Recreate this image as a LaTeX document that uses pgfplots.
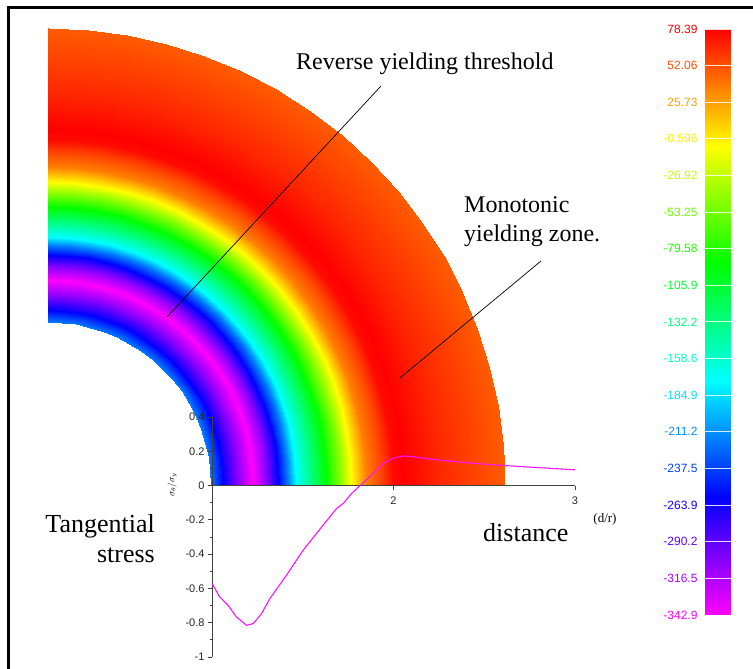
\documentclass[border=0pt]{standalone}
\usepackage{fontspec}
\setmainfont{Liberation Serif}
\newfontfamily\arial{Liberation Sans}
\usepackage{pgfplots}
\pgfplotsset{compat=1.18}
\begin{document}
\begin{tikzpicture}
\useasboundingbox (0pt,0pt) rectangle (753pt,669pt);
\fill[white] (0pt,0pt) rectangle (753pt,669pt);
% ---------------- stress field (quarter annulus) and colour bar gradient
\begin{axis}[at={(0pt,0pt)}, anchor=south west, scale only axis,
  width=753pt, height=669pt,
  xmin=-48, xmax=705, ymin=-184, ymax=485, view={0}{90}, hide axis,
  colormap={hue}{rgb255=(255,0,255) rgb255=(0,0,255) rgb255=(0,255,255) rgb255=(0,255,0) rgb255=(255,255,0) rgb255=(255,0,0)},
  point meta min=-342.9, point meta max=78.39]
\addplot3[surf, shader=interp, data cs=polar, mesh/cols=20] table {
a r v
0 163 -218
0 175 -258.6
0 190 -305
0 205 -342.9
0 218 -305
0 230 -258.6
0 240 -216.5
0 248 -174.4
0 263 -132.3
0 278 -90.1
0 291 -48
0 303 -5.9
0 318 36.3
0 333 56
0 345 75
0 355 78.39
0 368 74
0 390 66
0 420 58
0 457 48
5 163 -218
5 175 -258.6
5 190 -305
5 205 -342.9
5 218 -305
5 230 -258.6
5 240 -216.5
5 248 -174.4
5 263 -132.3
5 278 -90.1
5 291 -48
5 303 -5.9
5 318 36.3
5 333 56
5 345 75
5 355 78.39
5 368 74
5 390 66
5 420 58
5 457 48
10 163 -218
10 175 -258.6
10 190 -305
10 205 -342.9
10 218 -305
10 230 -258.6
10 240 -216.5
10 248 -174.4
10 263 -132.3
10 278 -90.1
10 291 -48
10 303 -5.9
10 318 36.3
10 333 56
10 345 75
10 355 78.39
10 368 74
10 390 66
10 420 58
10 457 48
15 163 -218
15 175 -258.6
15 190 -305
15 205 -342.9
15 218 -305
15 230 -258.6
15 240 -216.5
15 248 -174.4
15 263 -132.3
15 278 -90.1
15 291 -48
15 303 -5.9
15 318 36.3
15 333 56
15 345 75
15 355 78.39
15 368 74
15 390 66
15 420 58
15 457 48
20 163 -218
20 175 -258.6
20 190 -305
20 205 -342.9
20 218 -305
20 230 -258.6
20 240 -216.5
20 248 -174.4
20 263 -132.3
20 278 -90.1
20 291 -48
20 303 -5.9
20 318 36.3
20 333 56
20 345 75
20 355 78.39
20 368 74
20 390 66
20 420 58
20 457 48
25 163 -218
25 175 -258.6
25 190 -305
25 205 -342.9
25 218 -305
25 230 -258.6
25 240 -216.5
25 248 -174.4
25 263 -132.3
25 278 -90.1
25 291 -48
25 303 -5.9
25 318 36.3
25 333 56
25 345 75
25 355 78.39
25 368 74
25 390 66
25 420 58
25 457 48
30 163 -218
30 175 -258.6
30 190 -305
30 205 -342.9
30 218 -305
30 230 -258.6
30 240 -216.5
30 248 -174.4
30 263 -132.3
30 278 -90.1
30 291 -48
30 303 -5.9
30 318 36.3
30 333 56
30 345 75
30 355 78.39
30 368 74
30 390 66
30 420 58
30 457 48
35 163 -218
35 175 -258.6
35 190 -305
35 205 -342.9
35 218 -305
35 230 -258.6
35 240 -216.5
35 248 -174.4
35 263 -132.3
35 278 -90.1
35 291 -48
35 303 -5.9
35 318 36.3
35 333 56
35 345 75
35 355 78.39
35 368 74
35 390 66
35 420 58
35 457 48
40 163 -218
40 175 -258.6
40 190 -305
40 205 -342.9
40 218 -305
40 230 -258.6
40 240 -216.5
40 248 -174.4
40 263 -132.3
40 278 -90.1
40 291 -48
40 303 -5.9
40 318 36.3
40 333 56
40 345 75
40 355 78.39
40 368 74
40 390 66
40 420 58
40 457 48
45 163 -218
45 175 -258.6
45 190 -305
45 205 -342.9
45 218 -305
45 230 -258.6
45 240 -216.5
45 248 -174.4
45 263 -132.3
45 278 -90.1
45 291 -48
45 303 -5.9
45 318 36.3
45 333 56
45 345 75
45 355 78.39
45 368 74
45 390 66
45 420 58
45 457 48
50 163 -218
50 175 -258.6
50 190 -305
50 205 -342.9
50 218 -305
50 230 -258.6
50 240 -216.5
50 248 -174.4
50 263 -132.3
50 278 -90.1
50 291 -48
50 303 -5.9
50 318 36.3
50 333 56
50 345 75
50 355 78.39
50 368 74
50 390 66
50 420 58
50 457 48
55 163 -218
55 175 -258.6
55 190 -305
55 205 -342.9
55 218 -305
55 230 -258.6
55 240 -216.5
55 248 -174.4
55 263 -132.3
55 278 -90.1
55 291 -48
55 303 -5.9
55 318 36.3
55 333 56
55 345 75
55 355 78.39
55 368 74
55 390 66
55 420 58
55 457 48
60 163 -218
60 175 -258.6
60 190 -305
60 205 -342.9
60 218 -305
60 230 -258.6
60 240 -216.5
60 248 -174.4
60 263 -132.3
60 278 -90.1
60 291 -48
60 303 -5.9
60 318 36.3
60 333 56
60 345 75
60 355 78.39
60 368 74
60 390 66
60 420 58
60 457 48
65 163 -218
65 175 -258.6
65 190 -305
65 205 -342.9
65 218 -305
65 230 -258.6
65 240 -216.5
65 248 -174.4
65 263 -132.3
65 278 -90.1
65 291 -48
65 303 -5.9
65 318 36.3
65 333 56
65 345 75
65 355 78.39
65 368 74
65 390 66
65 420 58
65 457 48
70 163 -218
70 175 -258.6
70 190 -305
70 205 -342.9
70 218 -305
70 230 -258.6
70 240 -216.5
70 248 -174.4
70 263 -132.3
70 278 -90.1
70 291 -48
70 303 -5.9
70 318 36.3
70 333 56
70 345 75
70 355 78.39
70 368 74
70 390 66
70 420 58
70 457 48
75 163 -218
75 175 -258.6
75 190 -305
75 205 -342.9
75 218 -305
75 230 -258.6
75 240 -216.5
75 248 -174.4
75 263 -132.3
75 278 -90.1
75 291 -48
75 303 -5.9
75 318 36.3
75 333 56
75 345 75
75 355 78.39
75 368 74
75 390 66
75 420 58
75 457 48
80 163 -218
80 175 -258.6
80 190 -305
80 205 -342.9
80 218 -305
80 230 -258.6
80 240 -216.5
80 248 -174.4
80 263 -132.3
80 278 -90.1
80 291 -48
80 303 -5.9
80 318 36.3
80 333 56
80 345 75
80 355 78.39
80 368 74
80 390 66
80 420 58
80 457 48
85 163 -218
85 175 -258.6
85 190 -305
85 205 -342.9
85 218 -305
85 230 -258.6
85 240 -216.5
85 248 -174.4
85 263 -132.3
85 278 -90.1
85 291 -48
85 303 -5.9
85 318 36.3
85 333 56
85 345 75
85 355 78.39
85 368 74
85 390 66
85 420 58
85 457 48
90 163 -218
90 175 -258.6
90 190 -305
90 205 -342.9
90 218 -305
90 230 -258.6
90 240 -216.5
90 248 -174.4
90 263 -132.3
90 278 -90.1
90 291 -48
90 303 -5.9
90 318 36.3
90 333 56
90 345 75
90 355 78.39
90 368 74
90 390 66
90 420 58
90 457 48
};
\addplot3[surf, shader=interp, mesh/cols=2] table {
x y v
657 -130 -342.9
683 -130 -342.9
657 -93.375 -316.5
683 -93.375 -316.5
657 -56.75 -290.2
683 -56.75 -290.2
657 -20.125 -263.9
683 -20.125 -263.9
657 16.5 -237.5
683 16.5 -237.5
657 53.125 -211.2
683 53.125 -211.2
657 89.75 -184.9
683 89.75 -184.9
657 126.375 -158.6
683 126.375 -158.6
657 163 -132.2
683 163 -132.2
657 199.625 -105.9
683 199.625 -105.9
657 236.25 -79.58
683 236.25 -79.58
657 272.875 -53.25
683 272.875 -53.25
657 309.5 -26.92
683 309.5 -26.92
657 346.125 -0.596
683 346.125 -0.596
657 382.75 25.73
683 382.75 25.73
657 419.375 52.06
683 419.375 52.06
657 456 78.39
683 456 78.39
};
\end{axis}
% ---------------- colour bar ticks, separators and coloured labels
\begin{axis}[at={(705pt,54pt)}, anchor=south west, scale only axis,
  width=26pt, height=586pt,
  xmin=0, xmax=1, ymin=-342.9, ymax=78.39,
  axis line style={draw=none}, tick style={draw=none}, xtick=\empty,
  ytick={-342.9,-316.5,-290.2,-263.9,-237.5,-211.2,-184.9,-158.6,-132.2,-105.9,-79.58,-53.25,-26.92,-0.596,25.73,52.06,78.39},
  yticklabels={
    {\textcolor[RGB]{255,0,255}{-342.9}},
    {\textcolor[RGB]{175,0,255}{-316.5}},
    {\textcolor[RGB]{96,0,255}{-290.2}},
    {\textcolor[RGB]{16,0,255}{-263.9}},
    {\textcolor[RGB]{0,64,255}{-237.5}},
    {\textcolor[RGB]{0,143,255}{-211.2}},
    {\textcolor[RGB]{0,223,255}{-184.9}},
    {\textcolor[RGB]{0,255,207}{-158.6}},
    {\textcolor[RGB]{0,255,128}{-132.2}},
    {\textcolor[RGB]{0,255,48}{-105.9}},
    {\textcolor[RGB]{32,255,0}{-79.58}},
    {\textcolor[RGB]{112,255,0}{-53.25}},
    {\textcolor[RGB]{191,255,0}{-26.92}},
    {\textcolor[RGB]{255,239,0}{-0.596}},
    {\textcolor[RGB]{255,159,0}{25.73}},
    {\textcolor[RGB]{255,80,0}{52.06}},
    {\textcolor[RGB]{255,0,0}{78.39}}},
  ymajorgrids, grid style={white, line width=0.9pt, opacity=0.85},
  yticklabel style={font=\arial\fontsize{12}{14}\selectfont, xshift=-4pt}]
\addplot[draw=none] coordinates {(0,0) (1,1)};
\end{axis}
% ---------------- inset: tangential stress vs distance
\begin{axis}[at={(212pt,12pt)}, anchor=south west, scale only axis,
  width=363pt, height=240pt,
  xmin=1, xmax=3, ymin=-1, ymax=0.4,
  axis x line=middle, axis y line=left,
  axis line style={-, draw=black!75, line width=1pt},
  xtick={2,3}, xticklabels={2,3},
  ytick={-1,-0.8,-0.6,-0.4,-0.2,0,0.2,0.4},
  yticklabels={-1,-0.8,-0.6,-0.4,-0.2,0,0.2,0.4},
  minor ytick={-0.9,-0.7,-0.5,-0.3,-0.1,0.1,0.3},
  tick align=outside, major tick length=4pt, minor tick length=2.5pt,
  tick style={draw=black!75, line width=0.8pt},
  ticklabel style={font=\arial\fontsize{11}{13}\selectfont, text=black!85},
  xticklabel style={yshift=-4pt},
  clip=false]
\addplot[color={rgb,255:red,255;green,20;blue,255}, line width=1.1pt] coordinates {
(1.0,-0.571) (1.042,-0.649) (1.088,-0.698) (1.134,-0.766) (1.19,-0.815)
(1.227,-0.805) (1.273,-0.747) (1.319,-0.659) (1.411,-0.522) (1.503,-0.376)
(1.613,-0.230) (1.687,-0.133) (1.724,-0.103) (1.770,-0.045) (1.816,0)
(1.871,0.053) (1.945,0.131) (2.0,0.160) (2.055,0.173) (2.092,0.170)
(2.239,0.150) (2.423,0.131) (2.608,0.117) (2.792,0.105) (3.0,0.092)};
\end{axis}
% ---------------- frame, leader lines and texts
\draw[line width=2.5pt] (8.4pt,0pt) -- (8.4pt,661.6pt) -- (753pt,661.6pt);
\draw[line width=0.7pt] (381pt,583pt) -- (167pt,352pt);
\draw[line width=0.7pt] (541pt,408pt) -- (400pt,291pt);
\node[anchor=base west, inner sep=0pt, font=\fontsize{24}{28}\selectfont] at (296pt,599pt) {Reverse yielding threshold};
\node[anchor=base west, inner sep=0pt, font=\fontsize{24}{28}\selectfont] at (464pt,456pt) {Monotonic};
\node[anchor=base west, inner sep=0pt, font=\fontsize{24}{28}\selectfont] at (464pt,427pt) {yielding zone.};
\node[anchor=base east, inner sep=0pt, font=\fontsize{26}{30}\selectfont] at (155pt,136pt) {Tangential};
\node[anchor=base east, inner sep=0pt, font=\fontsize{26}{30}\selectfont] at (155pt,106pt) {stress};
\node[anchor=base west, inner sep=0pt, font=\fontsize{26}{30}\selectfont] at (483pt,127pt) {distance};
\node[inner sep=0pt, font=\fontsize{13}{15}\selectfont] at (605pt,150pt) {(d/r)};
\node[inner sep=0pt, rotate=90, font=\fontsize{9}{11}\selectfont] at (172pt,184pt) {$\sigma_\theta/\sigma_y$};
\end{tikzpicture}
\end{document}
